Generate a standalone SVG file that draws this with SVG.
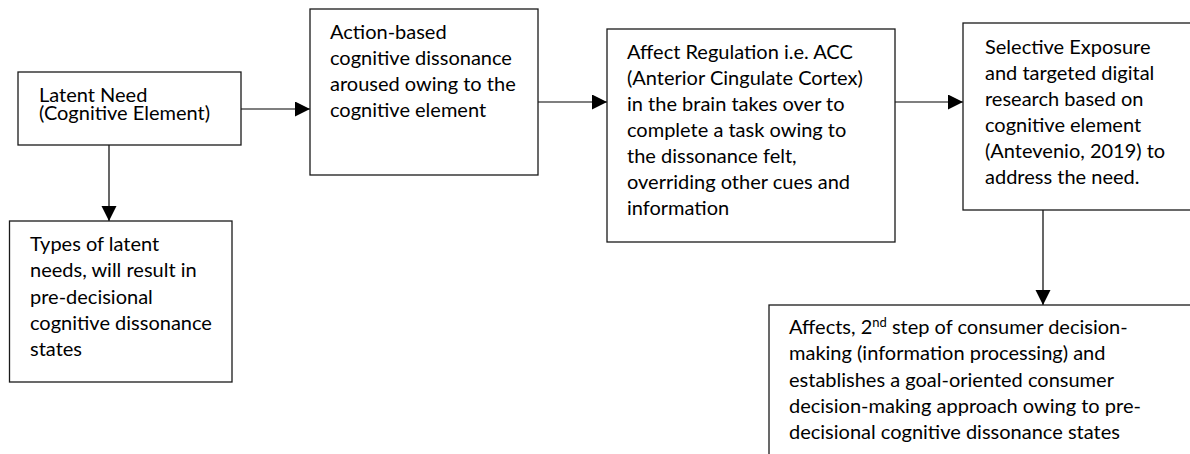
<svg xmlns="http://www.w3.org/2000/svg" width="1190" height="454" viewBox="0 0 1190 454">
<defs>
<marker id="arr" markerUnits="userSpaceOnUse" markerWidth="16" markerHeight="16" refX="15" refY="7.5" orient="auto">
<path d="M0,0 L15,7.5 L0,15 z" fill="#000"/>
</marker>
<style>
.box{fill:#fff;stroke:#1a1a1a;stroke-width:1.3}
.t{font-family:Lato,"Open Sans",sans-serif;font-size:20px;fill:#000}
.c{stroke:#000;stroke-width:1.2;fill:none;marker-end:url(#arr)}
</style>
</defs>
<rect width="1190" height="454" fill="#fff"/>
<g id="connectors">
<line class="c" x1="241" y1="109" x2="310" y2="109"/>
<line class="c" x1="109" y1="145" x2="109" y2="221"/>
<line class="c" x1="538" y1="102" x2="607" y2="102"/>
<line class="c" x1="895" y1="102" x2="963" y2="102"/>
<line class="c" x1="1043" y1="210" x2="1043" y2="305"/>
</g>
<g id="latent-need">
<rect class="box" x="18" y="72" width="223" height="73"/>
<text class="t"><tspan x="39" y="102">Latent Need</tspan><tspan x="39" y="120">(Cognitive Element)</tspan></text>
</g>
<g id="types">
<rect class="box" x="9.5" y="221" width="222.5" height="161"/>
<text class="t"><tspan x="30" y="251">Types of latent</tspan><tspan x="30" y="277">needs, will result in</tspan><tspan x="30" y="303.5">pre-decisional</tspan><tspan x="30" y="330">cognitive dissonance</tspan><tspan x="30" y="356">states</tspan></text>
</g>
<g id="action">
<rect class="box" x="310" y="9" width="228" height="166"/>
<text class="t"><tspan x="330" y="39">Action-based</tspan><tspan x="330" y="65">cognitive dissonance</tspan><tspan x="330" y="91">aroused owing to the</tspan><tspan x="330" y="117">cognitive element</tspan></text>
</g>
<g id="affect-regulation">
<rect class="box" x="607" y="29" width="288" height="213"/>
<text class="t"><tspan x="627" y="59">Affect Regulation i.e. ACC</tspan><tspan x="627" y="85">(Anterior Cingulate Cortex)</tspan><tspan x="627" y="111">in the brain takes over to</tspan><tspan x="627" y="137">complete a task owing to</tspan><tspan x="627" y="163">the dissonance felt,</tspan><tspan x="627" y="189">overriding other cues and</tspan><tspan x="627" y="215">information</tspan></text>
</g>
<g id="selective-exposure">
<rect class="box" x="963" y="23" width="240" height="187"/>
<text class="t"><tspan x="985" y="54">Selective Exposure</tspan><tspan x="985" y="80">and targeted digital</tspan><tspan x="985" y="106">research based on</tspan><tspan x="985" y="132">cognitive element</tspan><tspan x="985" y="158">(Antevenio, 2019) to</tspan><tspan x="985" y="184">address the need.</tspan></text>
</g>
<g id="affects">
<rect class="box" x="769" y="305" width="440" height="160"/>
<text class="t" x="789" y="334">Affects, 2<tspan font-size="13" dy="-7">nd</tspan><tspan dy="7"> step of consumer decision-</tspan></text>
<text class="t"><tspan x="789" y="360">making (information processing) and</tspan><tspan x="789" y="386.5">establishes a goal-oriented consumer</tspan><tspan x="789" y="413">decision-making approach owing to pre-</tspan><tspan x="789" y="439">decisional cognitive dissonance states</tspan></text>
</g>
</svg>
